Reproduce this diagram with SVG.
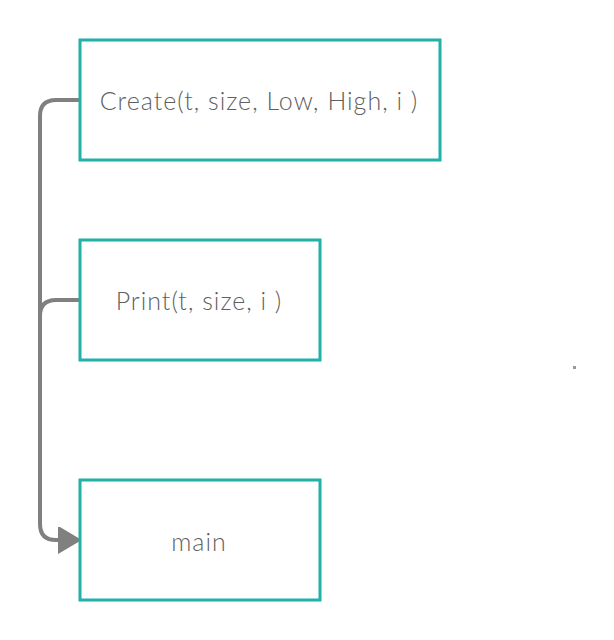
<svg xmlns="http://www.w3.org/2000/svg" width="614" height="640" viewBox="0 0 614 640">
<style>
.box{fill:#fff;stroke:#20B0A8;stroke-width:3}
.lbl{font-family:Lato,"Liberation Sans",sans-serif;font-weight:300;font-size:25px;letter-spacing:1px;fill:#5f5f5f;text-anchor:middle;dominant-baseline:central}
.con{fill:none;stroke:#808080;stroke-width:4}
</style>
<defs>
<marker id="arr" markerWidth="6" markerHeight="7" refX="5" refY="3.25" orient="auto" markerUnits="strokeWidth">
<path d="M0,0 L5.5,3.25 L0,6.5 Z" fill="#808080" stroke="#808080" stroke-width="0.5" stroke-linejoin="round"/>
</marker>
</defs>
<rect width="614" height="640" fill="#fff"/>
<g id="connectors">
<path class="con" d="M80,100 H56 Q40,100 40,116 V524 Q40,540 56,540 H78" marker-end="url(#arr)"/>
<path class="con" d="M80,300 H56 Q40,300 40,316"/>
</g>
<g id="create">
<rect class="box" x="80" y="40" width="360" height="120"/>
<text class="lbl" x="259" y="100">Create(t, size, Low, High, i )</text>
</g>
<g id="print">
<rect class="box" x="80" y="240" width="240" height="120"/>
<text class="lbl" x="199" y="300">Print(t, size, i )</text>
</g>
<g id="main">
<rect class="box" x="80" y="480" width="240" height="120"/>
<text class="lbl" x="199" y="541">main</text>
</g>
<rect x="573" y="366" width="3" height="3" fill="#999"/>
</svg>
